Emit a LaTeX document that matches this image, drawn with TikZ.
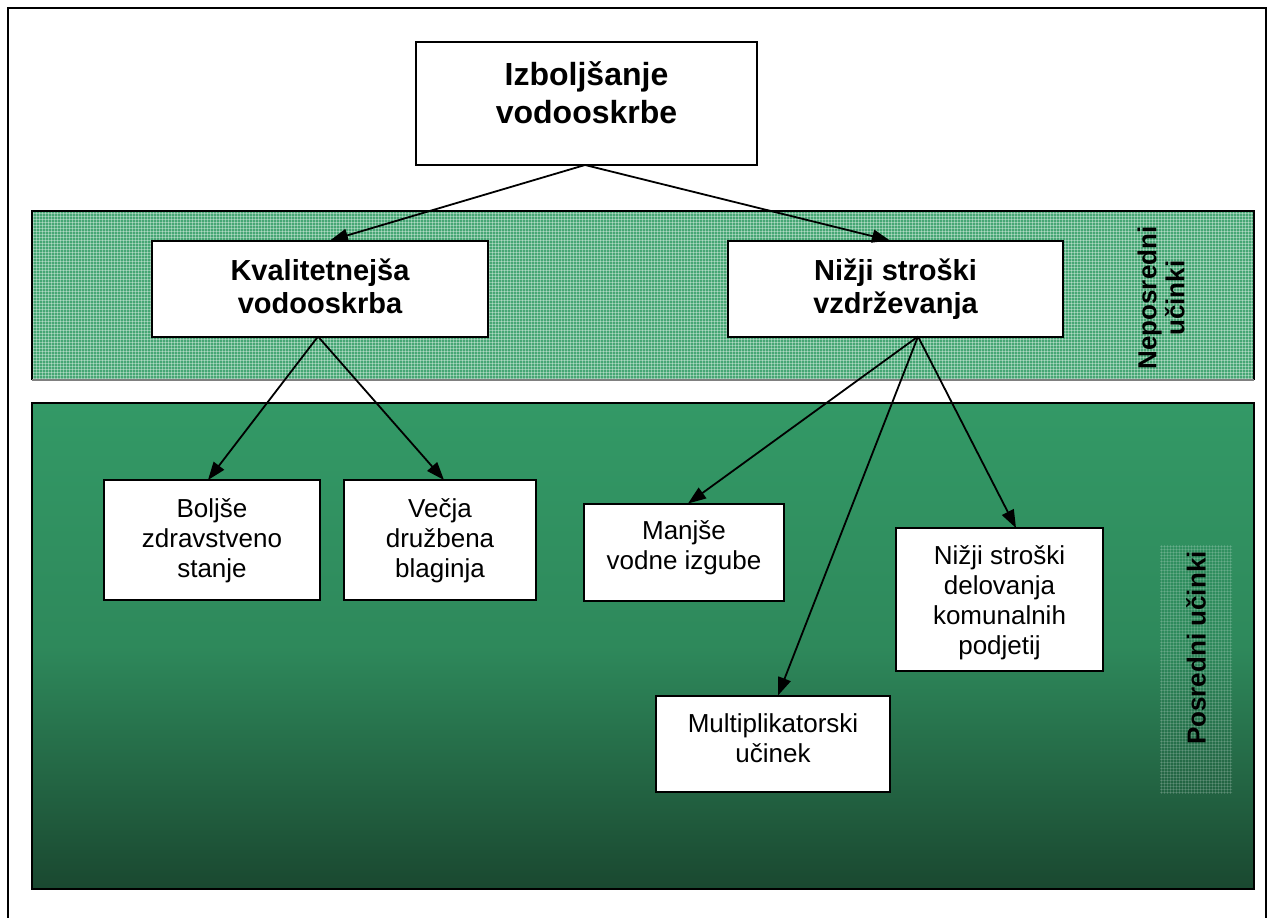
\documentclass[tikz,border=0pt]{standalone}
\usepackage{fontspec}
\setmainfont{Liberation Sans}
\usetikzlibrary{arrows.meta,patterns}
\definecolor{bandgreen}{HTML}{46A674}
\definecolor{topgreen}{HTML}{339966}
\definecolor{botgreen}{HTML}{1A4830}
\newcommand\lnstart{\rule{0pt}{1em}}
\begin{document}
\begin{tikzpicture}[x=1pt,y=-1pt,
  box/.style={draw,line width=2pt,fill=white,inner sep=0pt},
  txt/.style={align=center,inner sep=0pt,anchor=north},
  arr/.style={-{Triangle[length=18pt,width=13pt]},line width=1.8pt},
  bigtxt/.style={txt,font=\fontsize{32}{38}\selectfont\bfseries},
  midtxt/.style={txt,font=\fontsize{29}{33}\selectfont\bfseries},
  smalltxt/.style={txt,font=\fontsize{26}{30}\selectfont},
  sidetxt/.style={font=\fontsize{26}{28}\selectfont\bfseries}]
\useasboundingbox (0,0) rectangle (1272,918);
% outer frame
\draw[line width=2pt] (8,918) -- (8,8) -- (1266,8) -- (1266,918);
% upper band
\fill[bandgreen] (32,211) rectangle (1254,380);
\fill[pattern=grid,pattern color=white,opacity=0.35] (32,211) rectangle (1254,380);
\draw[line width=1.5pt] (32,380) -- (32,211) -- (1254,211) -- (1254,380);
\draw[line width=1.5pt,gray] (32,380) -- (1254,380);
% lower band
\shade[top color=topgreen,bottom color=botgreen,middle color=topgreen!80!botgreen] (32,403) rectangle (1254,889);
\draw[line width=2.5pt] (32,403) rectangle (1254,889);
\fill[pattern=grid,pattern color=white,opacity=0.15] (1160,545) rectangle (1232,793);
% boxes
\node[box,minimum width=341pt,minimum height=123pt] (t) at (586.5,103.5) {};
\node[bigtxt] (tt) at ([yshift=-12pt]t.north) {\lnstart Izboljšanje\\vodooskrbe};
\node[box,minimum width=336pt,minimum height=96pt] (k) at (320,288.5) {};
\node[midtxt] (kt) at ([yshift=-11.5pt]k.north) {\lnstart Kvalitetnejša\\vodooskrba};
\node[box,minimum width=335pt,minimum height=96pt] (n) at (895.5,288.5) {};
\node[midtxt] (nt) at ([yshift=-11.5pt]n.north) {\lnstart Nižji stroški\\vzdrževanja};
\node[box,minimum width=216pt,minimum height=120pt] (b1) at (212,540) {};
\node[smalltxt] (b1t) at ([yshift=-12pt]b1.north) {\lnstart Boljše\\zdravstveno\\stanje};
\node[box,minimum width=192pt,minimum height=120pt] (b2) at (440,540) {};
\node[smalltxt] (b2t) at ([yshift=-12pt]b2.north) {\lnstart Večja\\družbena\\blaginja};
\node[box,minimum width=200pt,minimum height=97pt] (b3) at (684,552) {};
\node[smalltxt] (b3t) at ([yshift=-11pt]b3.north) {\lnstart Manjše\\vodne izgube};
\node[box,minimum width=207pt,minimum height=143pt] (b4) at (999.5,599.5) {};
\node[smalltxt] (b4t) at ([yshift=-11pt]b4.north) {\lnstart Nižji stroški\\delovanja\\komunalnih\\podjetij};
\node[box,minimum width=234pt,minimum height=96pt] (b5) at (773,743.5) {};
\node[smalltxt] (b5t) at ([yshift=-12pt]b5.north) {\lnstart Multiplikatorski\\učinek};
% labels
\node[sidetxt,rotate=90,align=center] (l1) at (1161,298) {Neposredni\\učinki};
\node[sidetxt,rotate=90] (l2) at (1196,648) {Posredni učinki};
% arrows
\coordinate (ts) at (585,165);
\coordinate (ks) at (318,336.5);
\coordinate (ns) at (918,336.5);
\draw[arr] (ts) -- (330,240.5);
\draw[arr] (ts) -- (890,240.5);
\draw[arr] (ks) -- (208,480);
\draw[arr] (ks) -- (444,480);
\draw[arr] (ns) -- (688,503.5);
\draw[arr] (ns) -- (778,695.5);
\draw[arr] (ns) -- (1016,528);
\end{tikzpicture}
\end{document}
